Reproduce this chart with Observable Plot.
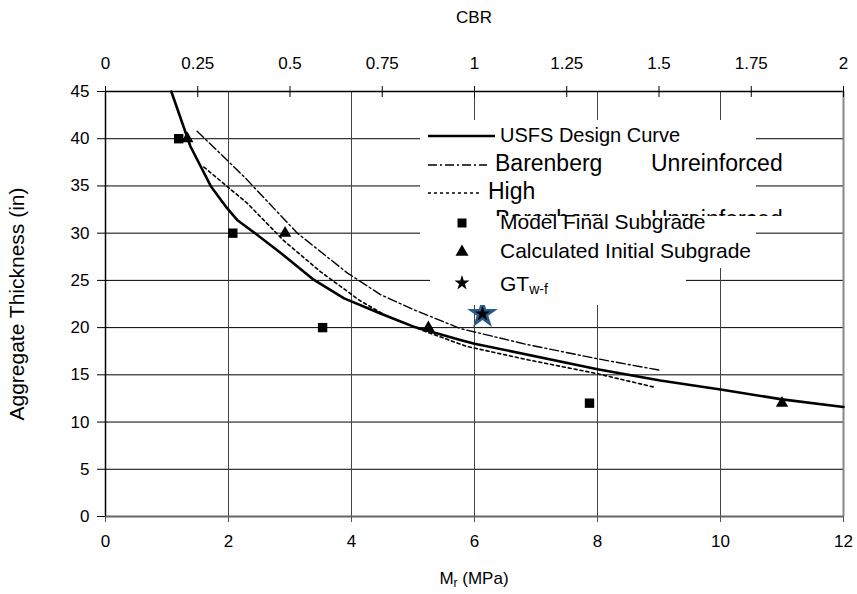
<!DOCTYPE html>
<html><head><meta charset="utf-8">
<script src="https://cdn.jsdelivr.net/npm/d3@7"></script>
<script src="https://cdn.jsdelivr.net/npm/@observablehq/plot@0.6"></script>
<style>body{margin:0;background:#fff} svg{display:block}</style>
</head><body><div id="chart"></div>
<script>
// ---- data ----
const mrTicks = [0, 2, 4, 6, 8, 10, 12];
const thickTicks = [0, 5, 10, 15, 20, 25, 30, 35, 40, 45];
const cbrTicks = [0, 0.25, 0.5, 0.75, 1, 1.25, 1.5, 1.75, 2];
const mpaPerCbr = 6; // top axis: CBR = Mr / 6

const usfsMr    = [1.07, 1.38, 1.71, 1.97, 2.14, 2.41, 2.85, 3.39, 3.88, 4.47, 5.01, 5.77, 6.0, 8.0, 9.02, 10.0, 11.0, 12.0];
const usfsThick = [45, 39.2, 35, 32.7, 31.4, 30.1, 27.9, 25.05, 23.1, 21.5, 20.1, 18.7, 18.3, 15.6, 14.4, 13.45, 12.4, 11.6];

const barUnMr    = [1.49, 2.25, 3.12, 3.93, 4.47, 5.01, 5.77, 6.86, 8.0, 9.0];
const barUnThick = [40.8, 36.0, 30.0, 25.8, 23.5, 21.9, 19.9, 18.2, 16.7, 15.5];

const highMr    = [1.6, 2.3, 2.9, 3.5, 4.15, 4.58, 5.28, 5.88, 6.86, 7.94, 8.92];
const highThick = [37.0, 33.2, 29.2, 25.9, 22.8, 21.2, 19.4, 18.0, 16.6, 15.2, 13.7];

const modelMr    = [1.19, 2.07, 3.53, 7.87];
const modelThick = [40, 30, 20, 12];

const calcMr    = [1.33, 2.92, 5.25, 11.0];
const calcThick = [40, 30, 20, 12];

const gtMr    = [6.13];
const gtThick = [21.45];

const seriesNames = ["USFS Design Curve", "Barenberg", "Unreinforced", "High",
                     "Model Final Subgrade", "Calculated Initial Subgrade", "GT", "w-f"];
const xTitle = "M", xTitleSub = "r", xTitleRest = " (MPa)";
const yTitle = "Aggregate Thickness (in)";
const topTitle = "CBR";

// ---- build ----
const usfs = usfsMr.map((x, i) => ({x, y: usfsThick[i]}));
const barUn = barUnMr.map((x, i) => ({x, y: barUnThick[i]}));
const high = highMr.map((x, i) => ({x, y: highThick[i]}));
const model = modelMr.map((x, i) => ({x, y: modelThick[i]}));
const calc = calcMr.map((x, i) => ({x, y: calcThick[i]}));
const gt = gtMr.map((x, i) => ({x, y: gtThick[i]}));
const cbrPos = cbrTicks.map(c => c * mpaPerCbr);
const yMax = thickTicks[thickTicks.length - 1];
const xMax = mrTicks[mrTicks.length - 1];

const FONT = "'Liberation Sans', Arial, sans-serif";

const svgEl = Plot.plot({
  width: 857, height: 594,
  marginLeft: 105, marginRight: 14, marginTop: 91, marginBottom: 78,
  style: {fontFamily: FONT, fontSize: "17px", color: "#000", background: "#fff"},
  x: {domain: [0, xMax]},
  y: {domain: [0, yMax]},
  marks: [
    Plot.ruleY(thickTicks.filter(t => t > 0 && t < yMax), {stroke: "#000", strokeWidth: 1}),
    Plot.ruleX(mrTicks.filter(t => t > 0 && t < xMax), {stroke: "#444", strokeWidth: 1}),
    Plot.ruleY([0], {stroke: "#666", strokeWidth: 2}),
    Plot.ruleY([yMax], {stroke: "#000", strokeWidth: 1.5}),
    Plot.ruleX([0], {stroke: "#000", strokeWidth: 1.5}),
    Plot.ruleX([xMax], {stroke: "#888", strokeWidth: 2}),
    Plot.axisX(mrTicks, {anchor: "bottom", tickSize: 6, tickPadding: 12, label: null, stroke: "#555", fontSize: 17}),
    Plot.axisX(cbrPos, {anchor: "top", tickSize: 6, tickPadding: 17, label: null, fontSize: 17,
                        tickFormat: d => String(d / mpaPerCbr)}),
    Plot.ruleX(cbrPos, {x: d => d, y1: () => yMax, y2: () => yMax, insetTop: 6, insetBottom: 0, stroke: "#000", strokeWidth: 1}),
    Plot.axisY(thickTicks, {anchor: "left", tickSize: 8, tickPadding: 8, label: null, fontSize: 17}),
    Plot.line(barUn, {x: "x", y: "y", stroke: "#000", strokeWidth: 1.4, strokeDasharray: "9,3,2,3"}),
    Plot.line(high, {x: "x", y: "y", stroke: "#000", strokeWidth: 1.6, strokeDasharray: "3,3"}),
    Plot.line(usfs, {x: "x", y: "y", stroke: "#000", strokeWidth: 2.6}),
    Plot.dot(model, {x: "x", y: "y", symbol: "square", r: 5.3, fill: "#000"}),
    Plot.dot(calc, {x: "x", y: "y", symbol: "triangle", r: 4.6, fill: "#000"}),
    Plot.dot(gt, {x: "x", y: "y", symbol: "star", r: 7.2, fill: "#000", stroke: "#2b5b8c", strokeWidth: 2.5})
  ]
});
document.getElementById("chart").appendChild(svgEl);

const svg = d3.select(svgEl);

// axis titles
svg.append("text").attr("x", 474).attr("y", 23).attr("text-anchor", "middle")
  .attr("font-family", FONT).attr("font-size", 17).text(topTitle);
const xt = svg.append("text").attr("x", 474).attr("y", 584).attr("text-anchor", "middle")
  .attr("font-family", FONT).attr("font-size", 17);
xt.append("tspan").text(xTitle);
xt.append("tspan").attr("font-size", 12).attr("dy", 3).text(xTitleSub);
xt.append("tspan").attr("dy", -3).text(xTitleRest);
svg.append("text").attr("transform", "translate(24,304) rotate(-90)").attr("text-anchor", "middle")
  .attr("font-family", FONT).attr("font-size", 21).text(yTitle);

// legend
const lg = svg.append("g").attr("font-family", FONT).attr("fill", "#000").attr("text-anchor", "start");
lg.append("rect").attr("x", 420).attr("y", 120).attr("width", 336).attr("height", 148).attr("fill", "#fff");
lg.append("rect").attr("x", 640).attr("y", 150).attr("width", 150).attr("height", 27).attr("fill", "#fff");
lg.append("line").attr("x1", 428).attr("x2", 495).attr("y1", 136).attr("y2", 136).attr("stroke", "#000").attr("stroke-width", 2.6);
lg.append("text").attr("x", 500).attr("y", 142).attr("font-size", 20).text(seriesNames[0]);
lg.append("line").attr("x1", 428).attr("x2", 487).attr("y1", 165).attr("y2", 165).attr("stroke", "#000").attr("stroke-width", 1.4).attr("stroke-dasharray", "9,3,2,3");
lg.append("text").attr("x", 495).attr("y", 171).attr("font-size", 23).text(seriesNames[1]);
lg.append("text").attr("x", 651).attr("y", 171).attr("font-size", 23).text(seriesNames[2]);
lg.append("line").attr("x1", 428).attr("x2", 482).attr("y1", 193).attr("y2", 193).attr("stroke", "#000").attr("stroke-width", 1.6).attr("stroke-dasharray", "3,3");
lg.append("text").attr("x", 488).attr("y", 199).attr("font-size", 23).text(seriesNames[3]);
svg.append("defs").append("clipPath").attr("id", "row4clip").append("rect")
  .attr("x", 400).attr("y", 190).attr("width", 420).attr("height", 26);
const r4 = lg.append("g").attr("clip-path", "url(#row4clip)");
r4.append("text").attr("x", 495).attr("y", 227).attr("font-size", 23).text(seriesNames[1]);
r4.append("text").attr("x", 651).attr("y", 227).attr("font-size", 23).text(seriesNames[2]);
lg.append("rect").attr("x", 430).attr("y", 216).attr("width", 256).attr("height", 89).attr("fill", "#fff");
lg.append("path").attr("transform", "translate(462,223)").attr("d", d3.symbol(d3.symbolSquare, 81)());
lg.append("path").attr("transform", "translate(462,252)").attr("d", d3.symbol(d3.symbolTriangle, 73)());
lg.append("path").attr("transform", "translate(462,283)").attr("d", d3.symbol(d3.symbolStar, 70)());
lg.append("text").attr("x", 500).attr("y", 229).attr("font-size", 21).text(seriesNames[4]);
lg.append("text").attr("x", 500).attr("y", 258).attr("font-size", 21).text(seriesNames[5]);
const gtText = lg.append("text").attr("x", 500).attr("y", 291).attr("font-size", 21);
gtText.append("tspan").text(seriesNames[6]);
gtText.append("tspan").attr("font-size", 14).attr("dy", 3).text(seriesNames[7]);
</script>
</body></html>
